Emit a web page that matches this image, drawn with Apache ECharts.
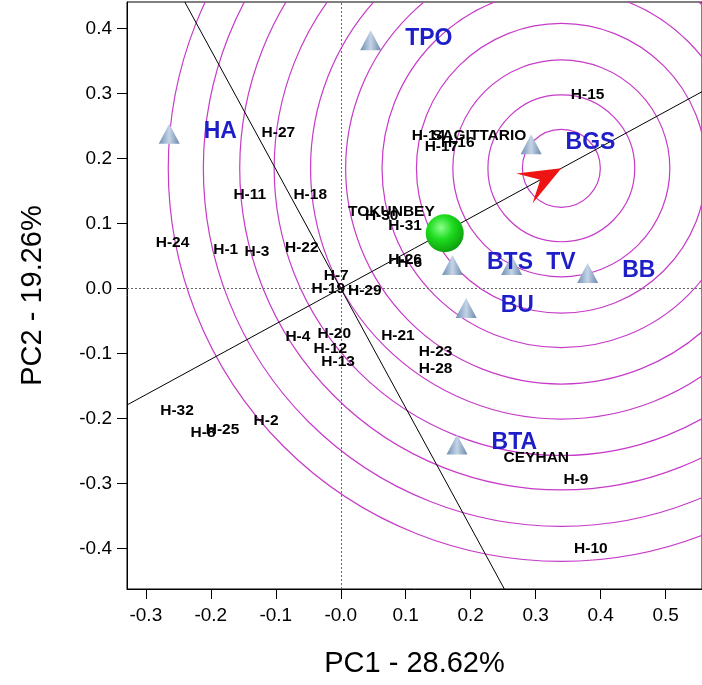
<!DOCTYPE html>
<html>
<head>
<meta charset="utf-8">
<script src="https://cdn.jsdelivr.net/npm/echarts@6/dist/echarts.min.js"></script>
<style>
html, body { margin: 0; padding: 0; background: #fff; }
#chart { width: 702px; height: 685px; }
</style>
</head>
<body>
<div id="chart"></div>
<script>
// genotypes (black labels)
const genotypeNames = ['H-1', 'H-2', 'H-3', 'H-4', 'H-6', 'H-7', 'H-8', 'H-9', 'H-10', 'H-11', 'H-12', 'H-13',
  'H-14', 'H-15', 'H-16', 'H-17', 'H-18', 'H-19', 'H-20', 'H-21', 'H-22', 'H-23', 'H-24', 'H-25', 'H-26',
  'H-27', 'H-28', 'H-29', 'H-30', 'H-31', 'H-32', 'SAGITTARIO', 'TOKUNBEY', 'CEYHAN']
const genotypeX = [-0.177, -0.115, -0.129, -0.066, 0.106, -0.007, -0.212, 0.362, 0.385, -0.140, -0.016, -0.004,
  0.135, 0.380, 0.180, 0.155, -0.047, -0.019, -0.010, 0.088, -0.060, 0.146, -0.259, -0.182, 0.099,
  -0.096, 0.146, 0.037, 0.063, 0.099, -0.252, 0.213, 0.078, 0.301]
const genotypeY = [0.059, -0.204, 0.056, -0.074, 0.039, 0.020, -0.222, -0.294, -0.400, 0.144, -0.093, -0.112,
  0.235, 0.298, 0.224, 0.218, 0.144, 0.000, -0.069, -0.073, 0.063, -0.098, 0.070, -0.217, 0.045,
  0.240, -0.124, -0.003, 0.112, 0.096, -0.188, 0.235, 0.118, -0.260]

// environments (blue triangles)
const envNames = ['TPO', 'HA', 'BGS', 'BTS', 'TV', 'BB', 'BU', 'BTA']
const envX = [0.046, -0.264, 0.293, 0.172, 0.263, 0.380, 0.193, 0.179]
const envY = [0.382, 0.238, 0.222, 0.036, 0.036, 0.024, -0.030, -0.240]

// average environment (green ball) and ideal genotype (arrow tip, circle centre)
const averageEnv = [0.160, 0.085]
const idealPoint = [0.3395, 0.1849]
const circleRadii = [0.060, 0.113, 0.167, 0.223, 0.276, 0.332, 0.386, 0.442, 0.495, 0.551, 0.605]

const xTicks = [-0.3, -0.2, -0.1, 0, 0.1, 0.2, 0.3, 0.4, 0.5]
const yTicks = [-0.4, -0.3, -0.2, -0.1, 0, 0.1, 0.2, 0.3, 0.4]

const FONT = '"Liberation Sans", Arial, sans-serif'

const chart = echarts.init(document.getElementById('chart'))

function clipRect(params) {
  const c = params.coordSys
  return { type: 'rect', shape: { x: c.x, y: c.y, width: c.width, height: c.height } }
}

// arrow head sits just behind the ideal point, pointing away from origin
const idealLen = Math.hypot(idealPoint[0], idealPoint[1])
const arrowBack = 0.0323
const arrowCenter = [idealPoint[0] * (1 - arrowBack / idealLen), idealPoint[1] * (1 - arrowBack / idealLen)]
const arrowAngle = Math.atan2(idealPoint[1], idealPoint[0]) * 180 / Math.PI

const axisCommon = {
  type: 'value',
  axisLine: { show: true, onZero: false, lineStyle: { color: '#000', width: 1 } },
  splitLine: { show: false },
  nameLocation: 'middle',
  nameTextStyle: { fontFamily: FONT, fontSize: 29, color: '#000' },
}

const option = {
  animation: false,
  backgroundColor: '#fff',
  grid: {
    left: 127, top: 2, right: 0, bottom: 96,
    show: true, borderColor: '#000', borderWidth: 1,
  },
  xAxis: {
    ...axisCommon,
    min: -0.329,
    max: 0.556,
    name: 'PC1 - 28.62%',
    nameGap: 60,
    axisTick: { show: true, length: 10, customValues: xTicks, lineStyle: { color: '#000' } },
    axisLabel: {
      customValues: xTicks, margin: 17, fontFamily: FONT, fontSize: 19, color: '#000',
      formatter: (v) => (v === 0 ? '-0.0' : v.toFixed(1)),
    },
  },
  yAxis: {
    ...axisCommon,
    min: -0.4623,
    max: 0.4408,
    name: 'PC2 - 19.26%',
    nameGap: 80,
    axisTick: { show: true, length: 10, customValues: yTicks, lineStyle: { color: '#000' } },
    axisLabel: {
      customValues: yTicks, margin: 15, fontFamily: FONT, fontSize: 19, color: '#000',
      formatter: (v) => v.toFixed(1),
    },
  },
  series: [
    // concentric circles around the ideal genotype
    {
      type: 'custom',
      silent: true,
      z: 1,
      data: circleRadii.map((r) => [idealPoint[0], idealPoint[1], r]),
      renderItem: (params, api) => {
        const c = api.coord([api.value(0), api.value(1)])
        const r = api.size([api.value(2), 0])[0]
        return {
          type: 'circle',
          shape: { cx: c[0], cy: c[1], r: r },
          style: { fill: 'none', stroke: '#c63cc8', lineWidth: 1.2 },
          clipPath: clipRect(params),
        }
      },
    },
    // average environment axis and its perpendicular through the origin
    {
      type: 'custom',
      silent: true,
      z: 2,
      data: [[idealPoint[0], idealPoint[1]], [-idealPoint[1], idealPoint[0]]],
      renderItem: (params, api) => {
        const dx = api.value(0)
        const dy = api.value(1)
        const p1 = api.coord([-5 * dx, -5 * dy])
        const p2 = api.coord([5 * dx, 5 * dy])
        return {
          type: 'line',
          shape: { x1: p1[0], y1: p1[1], x2: p2[0], y2: p2[1] },
          style: { stroke: '#000', lineWidth: 1 },
          clipPath: clipRect(params),
        }
      },
    },
    // genotype labels
    {
      type: 'scatter',
      z: 4,
      symbolSize: 1,
      itemStyle: { color: 'rgba(0,0,0,0)', opacity: 1 },
      data: genotypeNames.map((n, i) => ({ name: n, value: [genotypeX[i], genotypeY[i]] })),
      label: {
        show: true,
        position: 'inside',
        formatter: '{b}',
        fontFamily: FONT,
        fontSize: 15.5,
        fontWeight: 'bold',
        color: '#000',
        opacity: 1,
      },
      markLine: {
        silent: true,
        symbol: 'none',
        label: { show: false },
        lineStyle: { color: '#666', type: [2, 2], width: 1 },
        data: [{ xAxis: 0 }, { yAxis: 0 }],
        z: 2,
      },
    },
    // environments
    {
      type: 'scatter',
      z: 5,
      symbol: 'triangle',
      symbolSize: [21, 20],
      itemStyle: {
        opacity: 1,
        color: new echarts.graphic.LinearGradient(0, 0, 1, 0, [
          { offset: 0, color: '#6f8db2' },
          { offset: 0.5, color: '#c4d4e6' },
          { offset: 1, color: '#6a87ab' },
        ]),
      },
      data: envNames.map((n, i) => ({ name: n, value: [envX[i], envY[i]] })),
      label: {
        show: true,
        position: 'right',
        distance: 24,
        offset: [0, -2],
        formatter: '{b}',
        fontFamily: FONT,
        fontSize: 23,
        fontWeight: 'bold',
        color: '#1e1ec8',
        opacity: 1,
      },
    },
    // average environment ball
    {
      type: 'scatter',
      z: 6,
      symbolSize: 38,
      itemStyle: {
        opacity: 1,
        color: new echarts.graphic.RadialGradient(0.4, 0.35, 0.7, [
          { offset: 0, color: '#8cff8c' },
          { offset: 0.45, color: '#1fdc1f' },
          { offset: 1, color: '#0a9a0a' },
        ]),
      },
      data: [averageEnv],
    },
    // arrow head at the ideal genotype
    {
      type: 'scatter',
      z: 7,
      symbol: 'path://M0,0 L17,42 L0,24 L-17,42 Z',
      symbolSize: [34, 42],
      symbolRotate: arrowAngle - 90,
      itemStyle: { color: '#ee1414', opacity: 1 },
      data: [arrowCenter],
    },
  ],
}

chart.setOption(option)
</script>
</body>
</html>
